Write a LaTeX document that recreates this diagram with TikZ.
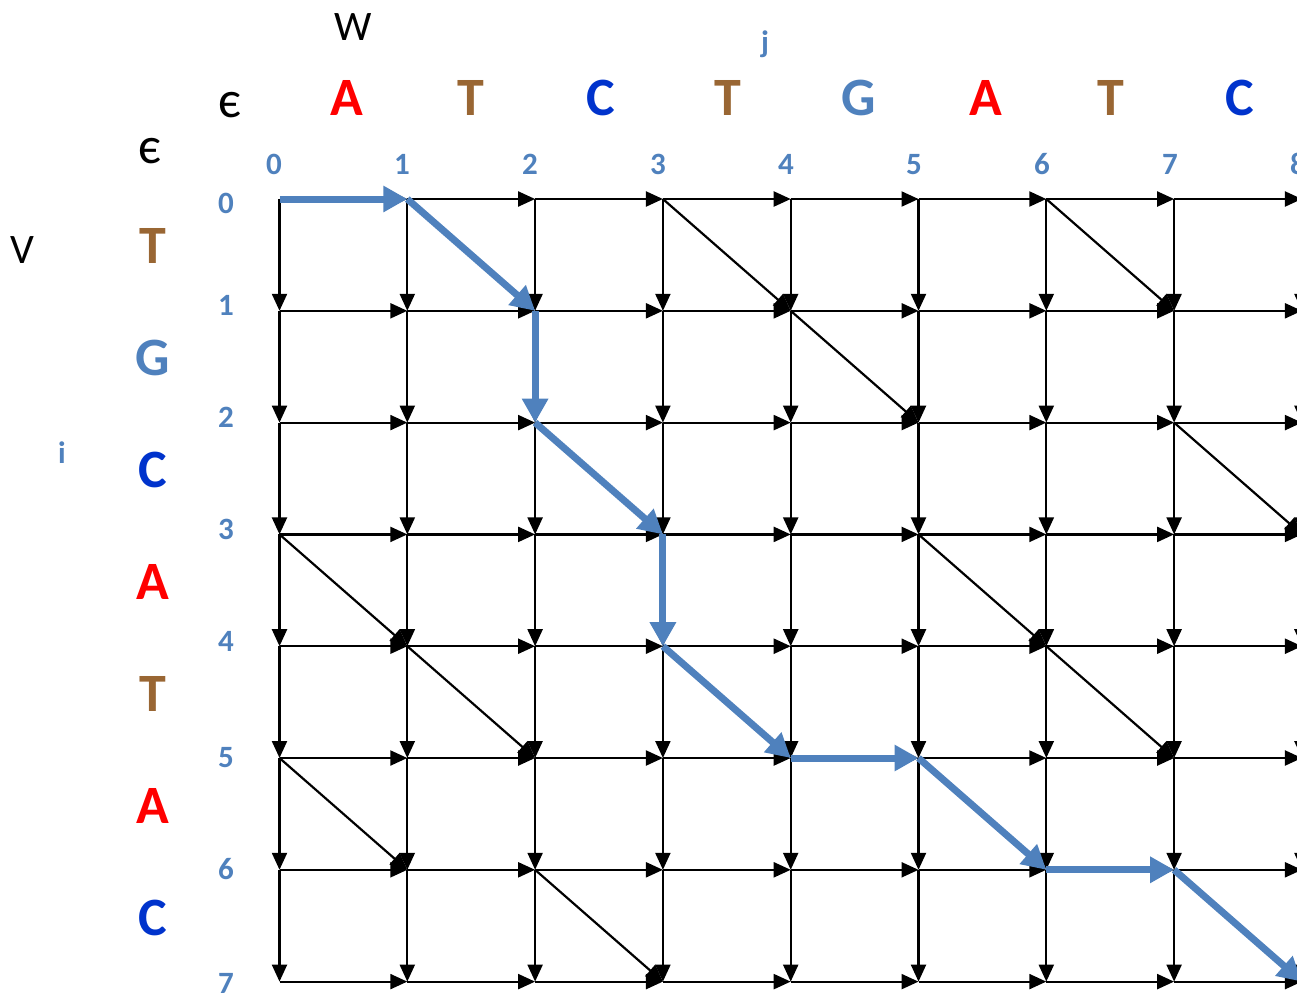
\documentclass[tikz,border=0pt]{standalone}
\usepackage{fontspec}
\setmainfont{Carlito}
\usetikzlibrary{arrows.meta}
\definecolor{nred}{HTML}{FF0000}
\definecolor{nbrown}{HTML}{996633}
\definecolor{nblue}{HTML}{0033CC}
\definecolor{steel}{HTML}{4F81BD}
\tikzset{
 edge/.style={line width=2.2pt, -{Triangle[length=17pt,width=15pt]}},
 bpath/.style={line width=7pt, draw=steel, -{Triangle[length=24pt,width=25pt]}},
 basetext/.style={inner sep=0pt, anchor=base},
 big/.style={basetext, font=\fontsize{54}{54}\selectfont\bfseries},
 eps/.style={basetext, font=\fontsize{52}{52}\selectfont},
 num/.style={basetext, font=\fontsize{31}{31}\selectfont\bfseries, text=steel},
 lab/.style={basetext, font=\fontsize{42}{42}\selectfont},
}
\begin{document}
\begin{tikzpicture}[x=1pt,y=-1pt]
\useasboundingbox (0,0) rectangle (1297,994);
\begin{scope}
\clip (0,0) rectangle (1297,994);
\foreach \i in {0,...,7} \foreach \j in {0,...,8} {
  \coordinate (n-\i-\j) at ({279.5+127.8*\j},{199+111.8*\i});
}
% horizontal edges
\foreach \i in {0,...,7} \foreach \j in {0,...,7} {
  \pgfmathtruncatemacro\k{\j+1}
  \draw[edge] (n-\i-\j) -- (n-\i-\k);
}
% vertical edges
\foreach \i in {0,...,6} \foreach \j in {0,...,8} {
  \pgfmathtruncatemacro\k{\i+1}
  \draw[edge] (n-\i-\j) -- (n-\k-\j);
}
% diagonal (match) edges
\foreach \i/\j in {0/3,1/4,0/6,2/7,3/0,4/1,3/5,4/6,5/0,6/2} {
  \pgfmathtruncatemacro\k{\i+1}
  \pgfmathtruncatemacro\l{\j+1}
  \draw[edge] (n-\i-\j) -- (n-\k-\l);
}
% highlighted path
\foreach \a/\b/\c/\d in {0/0/0/1,0/1/1/2,1/2/2/2,2/2/3/3,3/3/4/3,4/3/5/4,5/4/5/5,5/5/6/6,6/6/6/7,6/7/7/8} {
  \draw[bpath] (n-\a-\b) -- (n-\c-\d);
}
% column numbers
\foreach \x [count=\n from 0] in {274,402,530,658,786,914,1042,1170,1298} {
  \node[num] (cn\n) at (\x,174) {\n};
}
% row numbers
\foreach \y [count=\n from 0] in {213,315,427,539,651,767,879,993} {
  \node[num] (rn\n) at (226,\y) {\n};
}
\end{scope}
% top sequence w
\foreach \x/\t/\c [count=\n] in {347/A/nred,471/T/nbrown,601/C/nblue,728/T/nbrown,859/G/steel,986/A/nred,1111/T/nbrown,1240/C/nblue} {
  \node[big, text=\c] (w\n) at (\x,115) {\t};
}
% left sequence v
\foreach \y/\t/\c [count=\n] in {263/T/nbrown,375/G/steel,487/C/nblue,599/A/nred,711/T/nbrown,823/A/nred,935/C/nblue} {
  \node[big, text=\c] (v\n) at (153,\y) {\t};
}
\node[eps] (epsTop) at (230,117) {є};
\node[eps] (epsLeft) at (150,163) {є};
\node[lab] (W) at (353,40) {W};
\node[lab] (V) at (22,263) {V};
\node[num] (jlab) at (765,52) {j};
\node[num] (ilab) at (62,463) {i};
\end{tikzpicture}
\end{document}
